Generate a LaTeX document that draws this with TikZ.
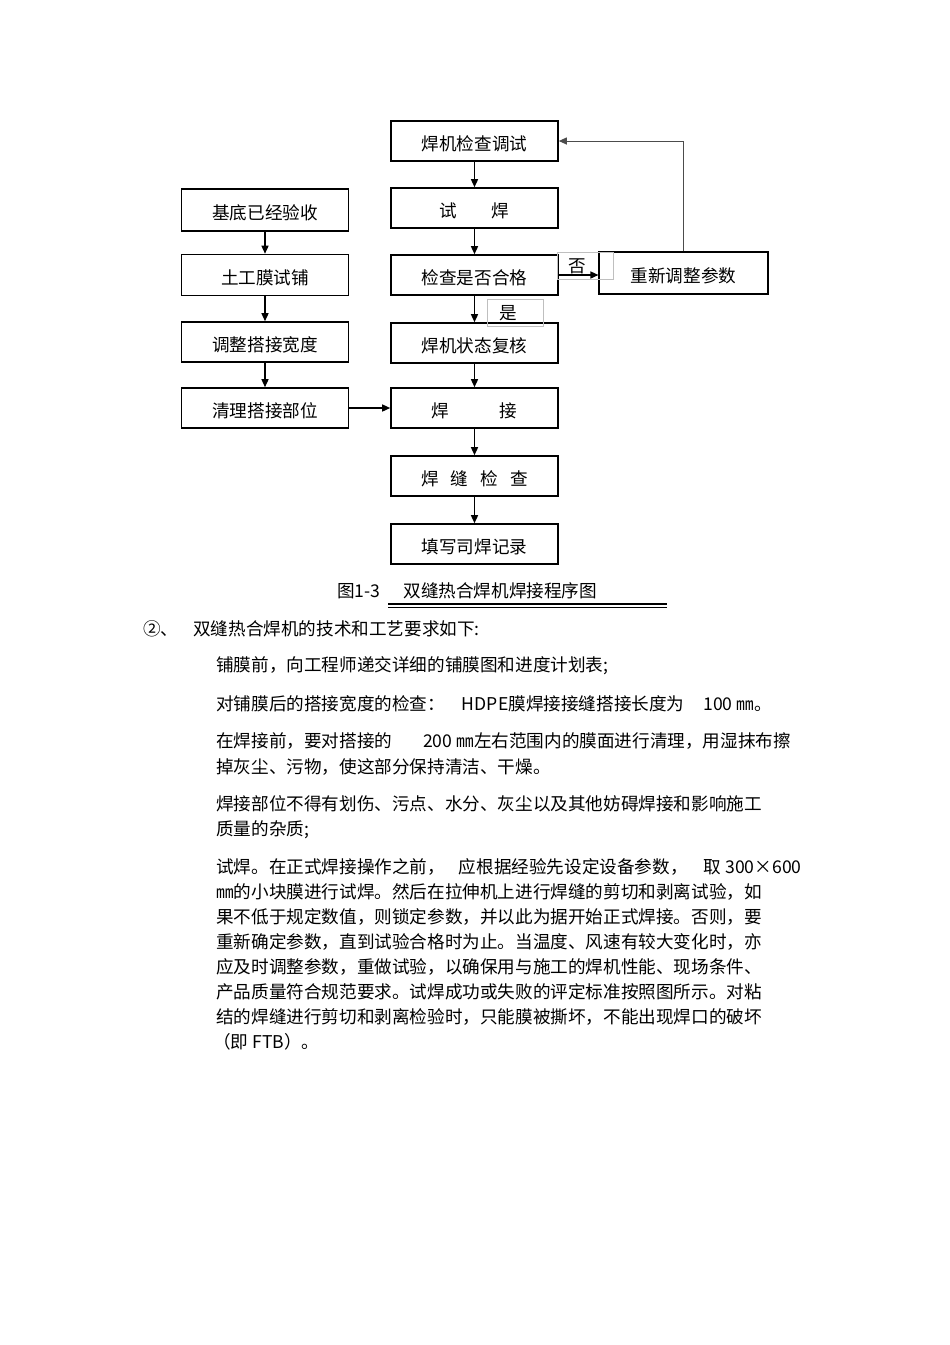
\documentclass[tikz,border=0pt]{standalone}
\usepackage{fontspec}
\setmainfont{Noto Sans CJK SC}
\usetikzlibrary{arrows.meta}

\begin{document}
\begin{tikzpicture}[x=1pt,y=-1pt,
  every node/.style={font=\fontsize{17.6pt}{20pt}\selectfont},
  procbox/.style={draw,line width=1.6pt,fill=white,minimum width=167pt,minimum height=40pt,inner sep=0pt,text height=19pt,text depth=0pt},
  lblbox/.style={draw=black!25,line width=0.6pt,minimum width=56pt,minimum height=27pt,inner sep=0pt,align=left,text height=15pt,text depth=2pt},
  bodytxt/.style={anchor=west,inner sep=0pt,text height=15pt,text depth=2pt},
  flow/.style={line width=1.4pt,-{Triangle[length=8pt,width=7pt]}}]
  \useasboundingbox (0,0) rectangle (950,1345);
  % right column
    \node [procbox] (chkset) at (474.5,141) {焊机检查调试};
    \node [procbox] (trial) at (474.5,208) {试\hspace{35pt}焊};
    \node [procbox] (check) at (474.5,275) {检查是否合格};
    \node [procbox] (review) at (474.5,343) {焊机状态复核};
    \node [procbox] (weld) at (474.5,408) {焊\hspace{51pt}接};
    \node [procbox] (seam) at (474.5,476) {焊\hspace{12pt}缝\hspace{12pt}检\hspace{12pt}查};
    \node [procbox] (record) at (474.5,544) {填写司焊记录};
    \node [procbox,line width=1.1pt,minimum width=169pt,minimum height=42pt] (redo) at (683.5,273) {重新调整参数};
  % left column
    \node [procbox,minimum height=42pt] (base) at (265,210) {基底已经验收};
    \node [procbox,minimum height=41pt] (lay) at (265,275) {土工膜试铺};
    \node [procbox] (adjust) at (265,342) {调整搭接宽度};
    \node [procbox] (clean) at (265,408) {清理搭接部位};
  % labels
    \node [lblbox,text width=34pt] (nolbl) at (585,266) {否};
    \node [lblbox,text width=32pt] (yeslbl) at (515,313) {是};
  % connectors
    \draw [flow] (chkset) -- (trial);
    \draw [flow] (trial) -- (check);
    \draw [flow] (check) -- (review);
    \draw [flow] (review) -- (weld);
    \draw [flow] (weld) -- (seam);
    \draw [flow] (seam) -- (record);
    \draw [flow] (base) -- (lay);
    \draw [flow] (lay) -- (adjust);
    \draw [flow] (adjust) -- (clean);
    \draw [flow] (clean) -- (weld);
    \draw [flow] (check.east) -- (check.east -| redo.west);
    \draw [flow,line width=1pt,black!70] (redo.north) |- (chkset.east);
  % caption
    \node [bodytxt] (caption) at (337,591) {图1-3\hspace{23pt}双缝热合焊机焊接程序图};
    \draw [line width=2pt] (388,603.5) -- (667,603.5);
    \draw [line width=0.8pt] (388,607) -- (667,607);
  % text
    \node [bodytxt] (l1) at (143,629) {②、\hspace{15pt}双缝热合焊机的技术和工艺要求如下:};
    \node [bodytxt] (l2) at (216,665) {铺膜前，向工程师递交详细的铺膜图和进度计划表;};
    \node [bodytxt] (l3) at (216,704) {对铺膜后的搭接宽度的检查：\hspace{17pt}HDPE膜焊接接缝搭接长度为\hspace{19pt}100 ㎜。};
    \node [bodytxt] (l4) at (216,741) {在焊接前，要对搭接的\hspace{31pt}200 ㎜左右范围内的膜面进行清理，用湿抹布擦};
    \node [bodytxt] (l5) at (216,767) {掉灰尘、污物，使这部分保持清洁、干燥。};
    \node [bodytxt] (l6) at (216,804) {焊接部位不得有划伤、污点、水分、灰尘以及其他妨碍焊接和影响施工};
    \node [bodytxt] (l7) at (216,829) {质量的杂质;};
    \node [bodytxt] (l8) at (216,867) {试焊。在正式焊接操作之前，\hspace{14pt}应根据经验先设定设备参数，\hspace{16pt}取 300×600};
    \node [bodytxt] (l9) at (216,892) {㎜的小块膜进行试焊。然后在拉伸机上进行焊缝的剪切和剥离试验，如};
    \node [bodytxt] (l10) at (216,917) {果不低于规定数值，则锁定参数，并以此为据开始正式焊接。否则，要};
    \node [bodytxt] (l11) at (216,942) {重新确定参数，直到试验合格时为止。当温度、风速有较大变化时，亦};
    \node [bodytxt] (l12) at (216,967) {应及时调整参数，重做试验，以确保用与施工的焊机性能、现场条件、};
    \node [bodytxt] (l13) at (216,992) {产品质量符合规范要求。试焊成功或失败的评定标准按照图所示。对粘};
    \node [bodytxt] (l14) at (216,1017) {结的焊缝进行剪切和剥离检验时，只能膜被撕坏，不能出现焊口的破坏};
    \node [bodytxt] (l15) at (213,1042) {（即 FTB）。};
\end{tikzpicture}
\end{document}
